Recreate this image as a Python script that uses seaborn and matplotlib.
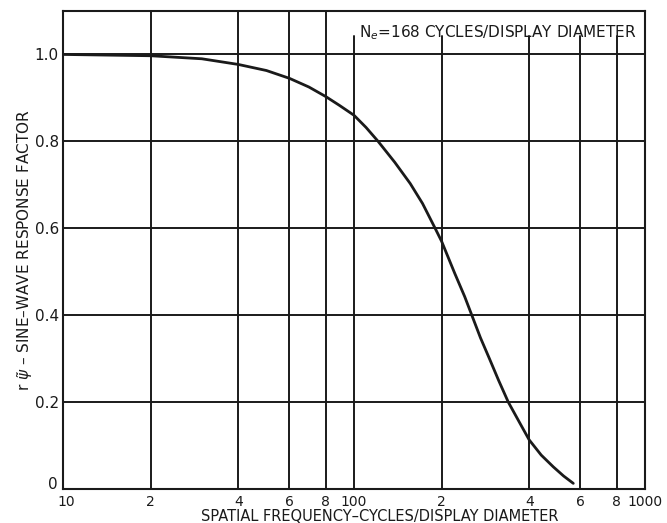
"""
Sine-wave response factor vs spatial frequency (log axis)
"""

import numpy as np
import pandas as pd
import matplotlib
matplotlib.use("Agg")
import matplotlib.pyplot as plt
import matplotlib.transforms as mtransforms
import seaborn as sns

sns.set_style("white")
plt.rcParams['font.family'] = ['DejaVu Sans']
plt.rcParams['mathtext.fontset'] = 'dejavusans'

# values
freq = [10, 20, 30, 40, 50, 60, 70, 80, 89, 100, 110, 121, 138, 156, 172,
        190, 200, 222, 240, 254, 272, 292, 314, 339, 372, 400, 440, 484,
        525, 567]
response = [1.000, 0.997, 0.990, 0.977, 0.963, 0.945, 0.925, 0.903, 0.883,
            0.860, 0.832, 0.800, 0.752, 0.703, 0.657, 0.600, 0.570, 0.496,
            0.443, 0.400, 0.348, 0.300, 0.250, 0.200, 0.151, 0.113, 0.078,
            0.051, 0.030, 0.013]

x_ticks = [10, 20, 40, 60, 80, 100, 200, 400, 600, 800, 1000]
x_tick_labels = ['10', '2', '4', '6', '8', '100', '2', '4', '6', '8', '1000']
y_ticks = [0, 0.2, 0.4, 0.6, 0.8, 1.0]
y_tick_labels = ['0', '0.2', '0.4', '0.6', '0.8', '1.0']

df = pd.DataFrame({'freq': freq, 'response': response})

fig = plt.figure(figsize=(6.67, 5.23), dpi=100)
ax = fig.add_axes([0.0945, 0.065, 0.8725, 0.914])

ink = '#1a1a1a'

# grid: lines under the annotation stop short of the top edge
for xv in x_ticks[1:-1]:
    top = 0.947 if xv >= 100 else 1.0
    ax.axvline(xv, ymin=0, ymax=top, color=ink, linewidth=1.4, zorder=1)
for yv in y_ticks[1:]:
    ax.axhline(yv, color=ink, linewidth=1.4, zorder=1)

sns.lineplot(data=df, x='freq', y='response', color=ink, linewidth=2.0,
             ax=ax, zorder=3)

ax.set_xscale('log')
ax.set_xlim(10, 1000)
ax.set_ylim(0, 1.1)

ax.set_xticks(x_ticks)
ax.set_xticklabels(x_tick_labels, fontsize=10)
ax.xaxis.set_minor_locator(matplotlib.ticker.NullLocator())
ax.set_yticks(y_ticks)
ax.set_yticklabels(y_tick_labels, fontsize=11)
ax.tick_params(axis='x', length=0, pad=4, colors=ink)
ax.tick_params(axis='y', length=0, pad=3, colors=ink)

# nudge the two corner labels apart ("0" and "10" sit at the origin)
lab0 = ax.get_yticklabels()[0]
lab0.set_transform(lab0.get_transform() +
                   mtransforms.ScaledTranslation(-1 / 72, 4 / 72, fig.dpi_scale_trans))
lab10 = ax.get_xticklabels()[0]
lab10.set_transform(lab10.get_transform() +
                    mtransforms.ScaledTranslation(2 / 72, 0, fig.dpi_scale_trans))

for s in ax.spines.values():
    s.set_color(ink)
    s.set_linewidth(1.5)

ax.set_xlabel('SPATIAL FREQUENCY\u2013CYCLES/DISPLAY DIAMETER', fontsize=10.5,
              color=ink, labelpad=0)
ax.xaxis.label.set_x(0.545)
ax.set_ylabel(r'r $\tilde{\psi}$' + ' \u2013 SINE\u2013WAVE RESPONSE FACTOR',
              fontsize=11, color=ink, labelpad=0)

ax.text(0.985, 0.975, r'N$_e$=168 CYCLES/DISPLAY DIAMETER', transform=ax.transAxes,
        ha='right', va='top', fontsize=11, color=ink)

plt.savefig('out.png', dpi=100, facecolor='white')
